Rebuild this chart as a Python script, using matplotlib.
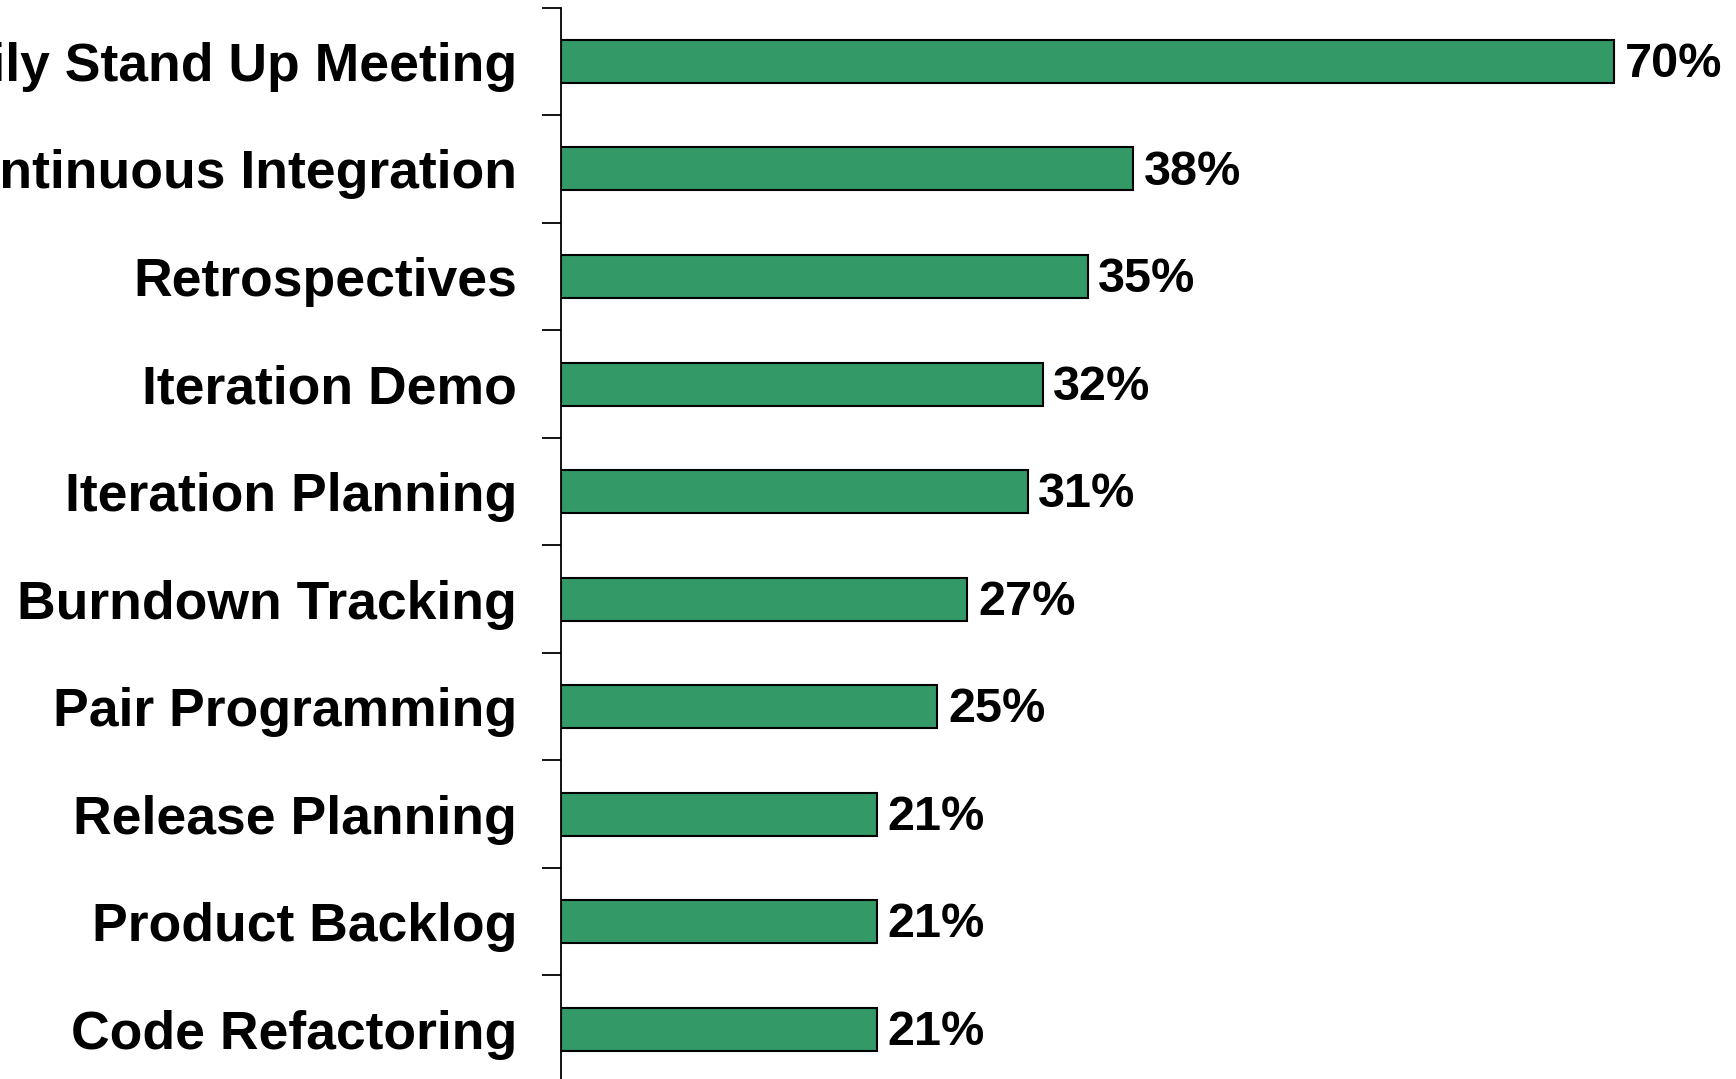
import numpy as np
import matplotlib
matplotlib.use("Agg")
import matplotlib.pyplot as plt

practices = ["Daily Stand Up Meeting", "Continuous Integration", "Retrospectives",
             "Iteration Demo", "Iteration Planning", "Burndown Tracking",
             "Pair Programming", "Release Planning", "Product Backlog",
             "Code Refactoring"]
pct = [70, 38, 35, 32, 31, 27, 25, 21, 21, 21]

plt.rcParams['font.family'] = ['Liberation Sans', 'DejaVu Sans']

fig = plt.figure(figsize=(17.36, 10.79), dpi=100)
ax = fig.add_axes([0.3234, -0.0037, 1 - 0.3234, 0.9966])

y = np.arange(len(practices))
ax.barh(y, pct, height=0.4, color='#339966', edgecolor='black', linewidth=1.5)

for yi, v in zip(y, pct):
    ax.text(v + 0.7, yi + 0.03, f"{v}%", va='center', ha='left',
            fontsize=35, fontweight='bold')

ax.set_xlim(0, 78.1)
ax.set_ylim(len(practices) - 0.5, -0.5)

# ticks sit between the bars, labels at the bar centres
ax.set_yticks(np.arange(-0.5, len(practices), 1.0))
ax.set_yticklabels([])
ax.set_yticks(y, minor=True)
ax.set_yticklabels(practices, minor=True, fontsize=38.5, fontweight='bold')
ax.tick_params(axis='y', which='major', length=13.7, width=1.3, direction='out')
ax.tick_params(axis='y', which='minor', length=0, pad=32)
ax.set_xticks([])

for s in ['top', 'right', 'bottom']:
    ax.spines[s].set_visible(False)
ax.spines['left'].set_linewidth(1.3)

fig.savefig("out.png", dpi=100)
